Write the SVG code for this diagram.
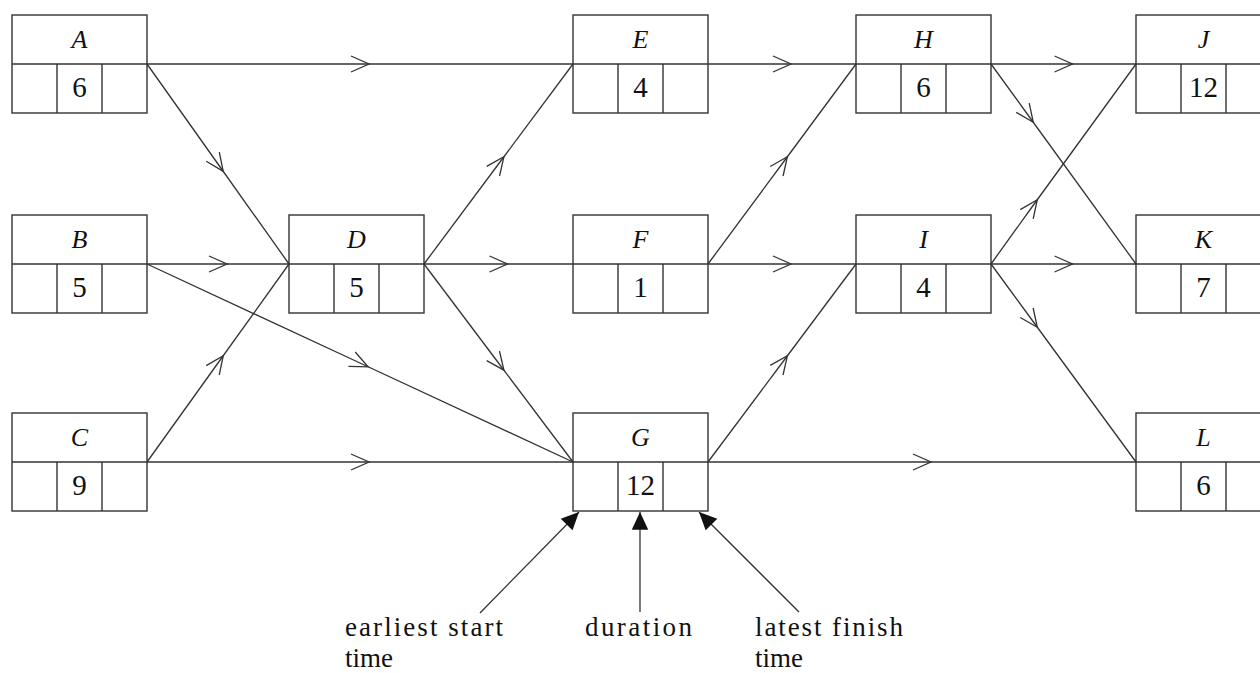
<svg xmlns="http://www.w3.org/2000/svg" width="1260" height="673" viewBox="0 0 1260 673">
<style>
.box{fill:none;stroke:#333;stroke-width:1.4}
.e{fill:none;stroke:#333;stroke-width:1.3;marker-mid:url(#chev)}
.p{fill:none;stroke:#333;stroke-width:1.3;marker-end:url(#tri)}
.lt{font-family:'Liberation Serif','DejaVu Serif',serif;font-style:italic;font-size:26px;fill:#111;text-anchor:middle}
.num{font-family:'Liberation Serif','DejaVu Serif',serif;font-size:29px;fill:#111;text-anchor:middle}
.lab{font-family:'Liberation Serif','DejaVu Serif',serif;font-size:27px;fill:#111}
</style>
<defs>
<marker id="chev" markerUnits="userSpaceOnUse" markerWidth="30" markerHeight="30" viewBox="-15 -15 30 30" refX="0" refY="0" orient="auto" overflow="visible">
<path d="M-9,-8 L9,0 L-9,8" fill="none" stroke="#333" stroke-width="1.3"/>
</marker>
<marker id="tri" markerUnits="userSpaceOnUse" markerWidth="20" markerHeight="20" viewBox="-16 -8 17 16" refX="0" refY="0" orient="auto" overflow="visible">
<path d="M0,0 L-15,-7 L-15,7 Z" fill="#111"/>
</marker>
<g id="nodeshape">
<rect class="box" x="0" y="0" width="135" height="98"/>
<line class="box" x1="0" y1="49" x2="135" y2="49"/>
<line class="box" x1="45" y1="49" x2="45" y2="98"/>
<line class="box" x1="90" y1="49" x2="90" y2="98"/>
</g>
</defs>
<rect width="1260" height="673" fill="#fff"/>
<g id="connectors">
<polyline class="e" points="147,64 360,64 573,64"/>
<polyline class="e" points="147,64 218,164 289,264"/>
<polyline class="e" points="147,264 218,264 289,264"/>
<polyline class="e" points="147,264 360,363 573,462"/>
<polyline class="e" points="147,462 218,363 289,264"/>
<polyline class="e" points="147,462 360,462 573,462"/>
<polyline class="e" points="424,264 498.5,164 573,64"/>
<polyline class="e" points="424,264 498.5,264 573,264"/>
<polyline class="e" points="424,264 498.5,363 573,462"/>
<polyline class="e" points="708,64 782,64 856,64"/>
<polyline class="e" points="708,264 782,164 856,64"/>
<polyline class="e" points="708,264 782,264 856,264"/>
<polyline class="e" points="708,462 782,363 856,264"/>
<polyline class="e" points="708,462 922,462 1136,462"/>
<polyline class="e" points="991,64 1063.5,64 1136,64"/>
<polyline class="e" points="991,64 1028,115 1136,264"/>
<polyline class="e" points="991,264 1032,207 1136,64"/>
<polyline class="e" points="991,264 1063.5,264 1136,264"/>
<polyline class="e" points="991,264 1032,320 1136,462"/>
<line class="p" x1="480" y1="613" x2="579" y2="512"/>
<line class="p" x1="640" y1="612" x2="640" y2="512"/>
<line class="p" x1="799" y1="612" x2="699" y2="512"/>
</g>
<g id="A"><use href="#nodeshape" x="12" y="15"/><text class="lt" x="79.5" y="48">A</text><text class="num" x="79.5" y="97">6</text></g>
<g id="B"><use href="#nodeshape" x="12" y="215"/><text class="lt" x="79.5" y="248">B</text><text class="num" x="79.5" y="297">5</text></g>
<g id="C"><use href="#nodeshape" x="12" y="413"/><text class="lt" x="79.5" y="446">C</text><text class="num" x="79.5" y="495">9</text></g>
<g id="D"><use href="#nodeshape" x="289" y="215"/><text class="lt" x="356.5" y="248">D</text><text class="num" x="356.5" y="297">5</text></g>
<g id="E"><use href="#nodeshape" x="573" y="15"/><text class="lt" x="640.5" y="48">E</text><text class="num" x="640.5" y="97">4</text></g>
<g id="F"><use href="#nodeshape" x="573" y="215"/><text class="lt" x="640.5" y="248">F</text><text class="num" x="640.5" y="297">1</text></g>
<g id="G"><use href="#nodeshape" x="573" y="413"/><text class="lt" x="640.5" y="446">G</text><text class="num" x="640.5" y="495">12</text></g>
<g id="H"><use href="#nodeshape" x="856" y="15"/><text class="lt" x="923.5" y="48">H</text><text class="num" x="923.5" y="97">6</text></g>
<g id="I"><use href="#nodeshape" x="856" y="215"/><text class="lt" x="923.5" y="248">I</text><text class="num" x="923.5" y="297">4</text></g>
<g id="J"><use href="#nodeshape" x="1136" y="15"/><text class="lt" x="1203.5" y="48">J</text><text class="num" x="1203.5" y="97">12</text></g>
<g id="K"><use href="#nodeshape" x="1136" y="215"/><text class="lt" x="1203.5" y="248">K</text><text class="num" x="1203.5" y="297">7</text></g>
<g id="L"><use href="#nodeshape" x="1136" y="413"/><text class="lt" x="1203.5" y="446">L</text><text class="num" x="1203.5" y="495">6</text></g>
<g id="labels">
<text class="lab" x="345" y="636" textLength="158" lengthAdjust="spacing">earliest start</text>
<text class="lab" x="345" y="667">time</text>
<text class="lab" x="585" y="636" textLength="107" lengthAdjust="spacing">duration</text>
<text class="lab" x="755" y="636" textLength="148" lengthAdjust="spacing">latest finish</text>
<text class="lab" x="755" y="667">time</text>
</g>
</svg>
